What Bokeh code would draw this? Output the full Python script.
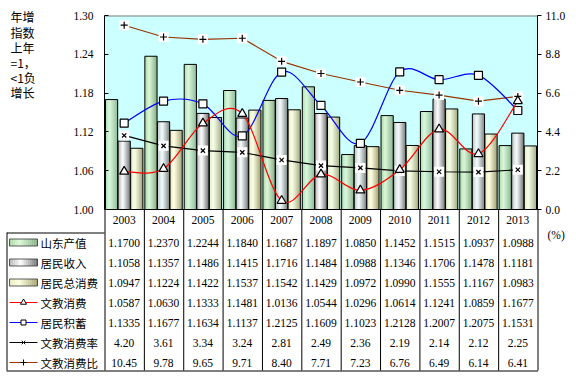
import numpy as np
from bokeh.plotting import figure
from bokeh.models import (Range1d, LinearAxis, FixedTicker, NumeralTickFormatter, ColumnDataSource)
from bokeh.core.properties import value
from bokeh.embed import file_html
from bokeh.resources import INLINE

# ---------------- data ----------------
years = ["2003", "2004", "2005", "2006", "2007", "2008", "2009", "2010", "2011", "2012", "2013"]
shandong = [1.1700, 1.2370, 1.2244, 1.1840, 1.1687, 1.1897, 1.0850, 1.1452, 1.1515, 1.0937, 1.0988]
income = [1.1058, 1.1357, 1.1486, 1.1415, 1.1716, 1.1484, 1.0988, 1.1346, 1.1706, 1.1478, 1.1181]
consumption = [1.0947, 1.1224, 1.1422, 1.1537, 1.1542, 1.1429, 1.0972, 1.0990, 1.1555, 1.1167, 1.0983]
edu = [1.0587, 1.0630, 1.1333, 1.1481, 1.0136, 1.0544, 1.0296, 1.0614, 1.1241, 1.0859, 1.1677]
savings = [1.1335, 1.1677, 1.1634, 1.1137, 1.2125, 1.1609, 1.1023, 1.2128, 1.2007, 1.2075, 1.1531]
edu_rate = [4.20, 3.61, 3.34, 3.24, 2.81, 2.49, 2.36, 2.19, 2.14, 2.12, 2.25]
edu_ratio = [10.45, 9.78, 9.65, 9.71, 8.40, 7.71, 7.23, 6.76, 6.49, 6.14, 6.41]
series_names = ["山东产值", "居民收入", "居民总消费", "文教消费", "居民积蓄", "文教消费率", "文教消费比"]
left_ticks = [1.00, 1.06, 1.12, 1.18, 1.24, 1.30]
right_ticks = [0.0, 2.2, 4.4, 6.6, 8.8, 11.0]
title_lines = ["年增", "指数", "上年", "=1，", "<1负", "增长"]
unit_label = "(%)"

# ---------------- layout constants (page pixels) ----------------
W, H = 576, 376
LEFT, RIGHT, TOP, BOT = 104, 537, 15, 209
N = len(years)
U = (RIGHT - LEFT) / N
YMIN, YMAX = 1.0, 1.3
RMAX = 11.0
SERIF = "Liberation Serif"
CJK = "Noto Sans CJK SC"
FS = "11.5px"

def px2x(px):
    return (px - LEFT) / U - 0.5

def py2y(py):
    return YMAX - (py - TOP) / (BOT - TOP) * (YMAX - YMIN)

def py2r(py):
    return RMAX * (BOT - py) / (BOT - TOP)

def hex2rgb(h):
    h = h.lstrip("#")
    return tuple(int(h[i:i + 2], 16) for i in (0, 2, 4))

def lerp_color(stops, t):
    for (t0, c0), (t1, c1) in zip(stops[:-1], stops[1:]):
        if t0 <= t <= t1:
            f = (t - t0) / (t1 - t0) if t1 > t0 else 0
            a, b = hex2rgb(c0), hex2rgb(c1)
            return "#%02x%02x%02x" % tuple(int(round(a[i] + (b[i] - a[i]) * f)) for i in range(3))
    return stops[-1][1]

green_stops = [(0.0, "#a8d4a0"), (0.35, "#dcf8d8"), (1.0, "#86ae86")]
gray_stops = [(0.0, "#b4b4b4"), (0.4, "#ffffff"), (1.0, "#6e6e6e")]
tan_stops = [(0.0, "#e8e8c0"), (0.35, "#ffffe4"), (1.0, "#a0a070")]

xs = np.arange(N)

# ---------------- single figure, frame = full canvas ----------------
p = figure(width=W, height=H, x_range=Range1d(px2x(0), px2x(W)), y_range=Range1d(py2y(H), py2y(0)),
           output_backend="svg", toolbar_location=None, x_axis_location=None, y_axis_location=None,
           min_border_left=0, min_border_right=0, min_border_top=0, min_border_bottom=0)
p.background_fill_color = "white"
p.border_fill_color = "white"
p.outline_line_color = None
p.grid.visible = False
p.extra_y_ranges = {"r": Range1d(py2r(H), py2r(0))}

# plot area
p.quad(left=[-0.5], right=[N - 0.5], bottom=[YMIN], top=[YMAX], fill_color="#ccffff",
       line_color=None)
p.segment(x0=[-0.5], y0=[py2y(TOP + 0.5)], x1=[N - 0.5], y1=[py2y(TOP + 0.5)],
          line_color="#808080", line_width=1)

# axes
ya = LinearAxis(fixed_location=-0.5, bounds=(YMIN, YMAX), ticker=FixedTicker(ticks=left_ticks),
                formatter=NumeralTickFormatter(format="0.00"))
ya.major_tick_in = 4
ya.major_tick_out = 0
ya.minor_tick_line_color = None
ya.axis_line_color = "black"
ya.major_label_text_font = SERIF
ya.major_label_text_font_size = FS
ya.major_label_text_color = "black"
ya.major_label_standoff = 11
p.add_layout(ya, "left")

ra = LinearAxis(y_range_name="r", fixed_location=N - 0.5, bounds=(0, RMAX),
                ticker=FixedTicker(ticks=right_ticks), formatter=NumeralTickFormatter(format="0.0"))
ra.major_tick_in = 0
ra.major_tick_out = 4
ra.minor_tick_line_color = None
ra.axis_line_color = "black"
ra.major_label_text_font = SERIF
ra.major_label_text_font_size = FS
ra.major_label_text_color = "black"
ra.major_label_standoff = 4
p.add_layout(ra, "right")

# bars
BW = 0.31
OFF = 0.32

def gradient_bars(centers, tops, stops, n=12):
    sx, st, sc = [], [], []
    for k in range(n):
        t = (k + 0.5) / n
        col = lerp_color(stops, t)
        for c, v in zip(centers, tops):
            sx.append(c + (t - 0.5) * BW)
            st.append(v)
            sc.append(col)
    src = ColumnDataSource(dict(x=sx, top=st, color=sc))
    p.vbar(x="x", top="top", bottom=YMIN, width=BW / n * 1.15, fill_color="color",
           line_color=None, source=src)
    p.vbar(x=list(centers), top=tops, bottom=YMIN, width=BW, fill_color=None,
           line_color="black", line_width=1)

gradient_bars(xs - OFF, shandong, green_stops)
gradient_bars(xs, income, gray_stops)
gradient_bars(xs + OFF, consumption, tan_stops)

# bottom axis line of plot area
p.segment(x0=[-0.5], y0=[YMIN], x1=[N - 0.5], y1=[YMIN], line_color="black", line_width=1)

def smooth(ys, color, **kw):
    ys = np.asarray(ys, dtype=float)
    n = len(ys)
    P = np.column_stack([np.arange(n, dtype=float), ys])
    ext = np.vstack([P[0], P, P[-1]])
    x0, y0, x1, y1, cx0, cy0, cx1, cy1 = ([] for _ in range(8))
    for i in range(n - 1):
        a, b = P[i], P[i + 1]
        pm, pn = ext[i], ext[i + 3]
        c0 = a + (b - pm) / 6.0
        c1 = b - (pn - a) / 6.0
        x0.append(a[0]); y0.append(a[1]); x1.append(b[0]); y1.append(b[1])
        cx0.append(c0[0]); cy0.append(c0[1]); cx1.append(c1[0]); cy1.append(c1[1])
    p.bezier(x0=x0, y0=y0, x1=x1, y1=y1, cx0=cx0, cy0=cy0, cx1=cx1, cy1=cy1,
             line_color=color, line_width=1.2, **kw)

# 文教消费比 (right axis)
p.line(xs, edu_ratio, line_color="#993300", line_width=1.2, y_range_name="r")
p.scatter(xs, edu_ratio, marker="square", size=10, fill_color="white", line_color=None, y_range_name="r")
p.scatter(xs, edu_ratio, marker="cross", size=7, line_color="black", line_width=1.2, y_range_name="r")
# 文教消费率 (right axis)
p.line(xs, edu_rate, line_color="black", line_width=1.2, y_range_name="r")
p.scatter(xs, edu_rate, marker="square", size=10, fill_color="white", line_color=None, y_range_name="r")
p.scatter(xs, edu_rate, marker="x", size=6, line_color="black", line_width=1.2, y_range_name="r")
# 居民积蓄
smooth(savings, "#0000ff")
p.scatter(xs, savings, marker="square", size=8, fill_color="white", line_color="black", line_width=1.2)
# 文教消费
smooth(edu, "#ff0000")
p.scatter(xs, edu, marker="triangle", size=9, fill_color="white", line_color="black", line_width=1.2)

# left title text
title_centers = [16, 32, 47, 62, 77, 92]
p.text(x=[px2x(10)] * len(title_lines), y=[py2y(c) for c in title_centers], text=title_lines,
       text_font=value(CJK), text_font_size="12px", text_color="black",
       text_baseline="middle", text_align="left")

# ---------------- data table ----------------
CAT_Y = 219
ROW0 = 242
PITCH = 20
TABLE_TOP = 232
TABLE_BOT = 370
hp = 0.5 / U

vx = [i - 0.5 + hp for i in range(N + 1)]
p.segment(x0=vx, y0=[py2y(BOT)] * (N + 1), x1=vx, y1=[py2y(TABLE_BOT)] * (N + 1),
          line_color="black", line_width=1)
p.segment(x0=[px2x(6.5), px2x(6.5), px2x(6)],
          y0=[py2y(TABLE_TOP), py2y(TABLE_TOP + 0.5), py2y(TABLE_BOT + 0.5)],
          x1=[px2x(6.5), px2x(LEFT), N - 0.5 + hp],
          y1=[py2y(TABLE_BOT), py2y(TABLE_TOP + 0.5), py2y(TABLE_BOT + 0.5)],
          line_color="black", line_width=1)

p.text(x=list(xs), y=[py2y(CAT_Y)] * N, text=years, text_font=value(SERIF), text_font_size=FS,
       text_align="center", text_baseline="middle", text_color="black")
p.text(x=[px2x(547)], y=[py2y(234)], text=[unit_label], text_font=value(SERIF), text_font_size=FS,
       text_align="left", text_baseline="middle", text_color="black")

rows = [shandong, income, consumption, edu, savings, edu_rate, edu_ratio]
fmts = ["{:.4f}"] * 5 + ["{:.2f}"] * 2
cx, cyv, ct = [], [], []
for r, (vals, f) in enumerate(zip(rows, fmts)):
    for i, v in enumerate(vals):
        cx.append(i)
        cyv.append(py2y(ROW0 + r * PITCH))
        ct.append(f.format(v))
p.text(x=cx, y=cyv, text=ct, text_font=value(SERIF), text_font_size=FS,
       text_align="center", text_baseline="middle", text_color="black")

p.text(x=[px2x(40)] * 7, y=[py2y(ROW0 + r * PITCH) for r in range(7)], text=series_names,
       text_font=value(CJK), text_font_size=FS, text_align="left", text_baseline="middle",
       text_color="black")

# legend keys
kx0, kx1 = px2x(9), px2x(37)
for r, stops in enumerate([green_stops, gray_stops, tan_stops]):
    yc = ROW0 + r * PITCH
    n = 14
    lefts, rights, cols = [], [], []
    for k in range(n):
        t = (k + 0.5) / n
        lefts.append(kx0 + (kx1 - kx0) * k / n)
        rights.append(kx0 + (kx1 - kx0) * (k + 1.1) / n)
        cols.append(lerp_color(stops, t))
    p.quad(left=lefts, right=rights, top=[py2y(yc - 3.5)] * n, bottom=[py2y(yc + 3.5)] * n,
           fill_color=cols, line_color=None)
    p.quad(left=[kx0], right=[kx1], top=[py2y(yc - 3.5)], bottom=[py2y(yc + 3.5)], fill_color=None,
           line_color="#333333", line_width=0.8)

line_keys = [("#ff0000", "triangle", 6), ("#0000ff", "square", 5), ("black", "x", 5), ("#993300", "cross", 6)]
kmid = px2x(23)
for j, (col, mk, sz) in enumerate(line_keys):
    yc = py2y(ROW0 + (3 + j) * PITCH)
    p.segment(x0=[kx0], y0=[yc], x1=[kx1], y1=[yc], line_color=col, line_width=1.2)
    if mk in ("triangle", "square"):
        p.scatter(x=[kmid], y=[yc], marker=mk, size=sz, fill_color="white", line_color="black")
    else:
        p.scatter(x=[kmid], y=[yc], marker=mk, size=sz, line_color="black")

open("out.html", "w").write(file_html(p, INLINE))
